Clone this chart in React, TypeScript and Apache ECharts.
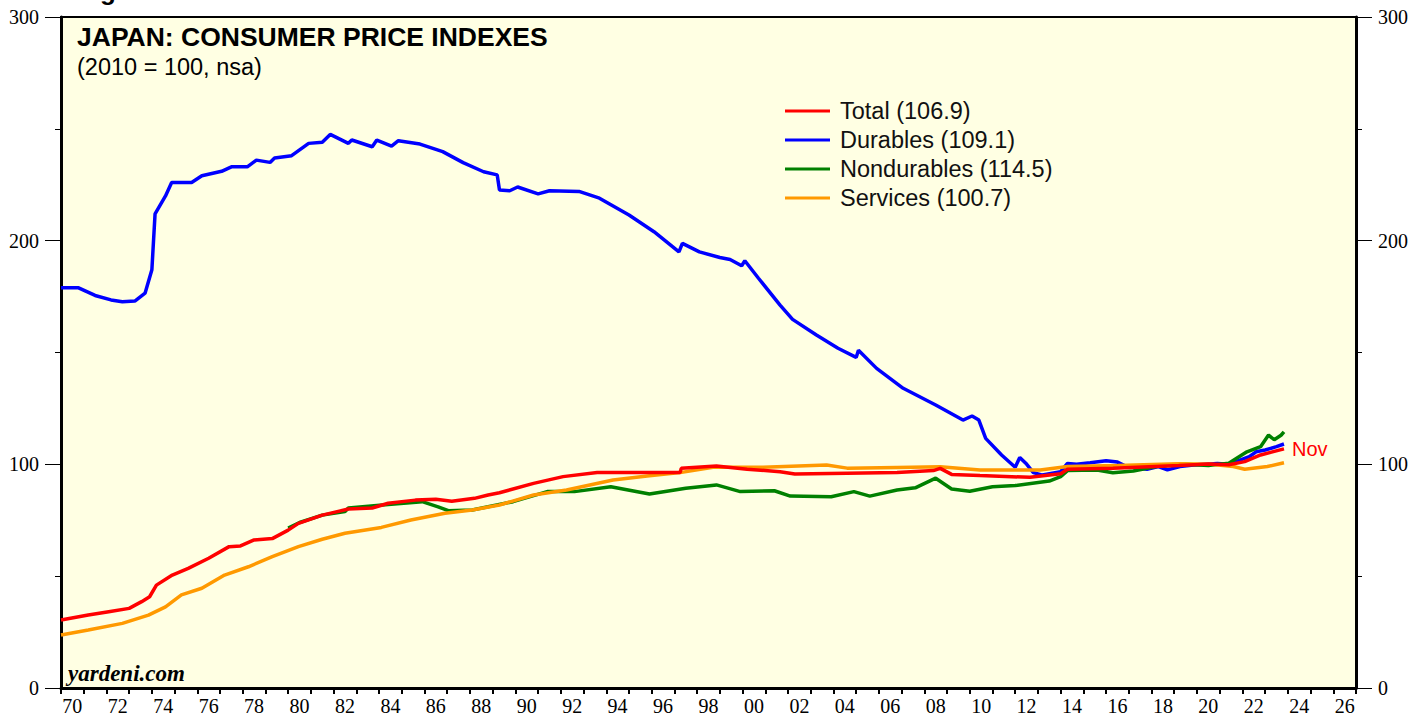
import React, { useEffect, useRef } from "react";
import * as echarts from "echarts";

// ---- Data (year as decimal, index value; 2010 = 100) ----
const durables: [number, number][] = [
  [1970.0, 179], [1970.75, 179], [1971.5, 175.5], [1972.2, 173.5], [1972.7, 172.7],
  [1973.25, 173], [1973.7, 176.5], [1974.0, 187], [1974.14, 212], [1974.6, 220],
  [1974.87, 226], [1975.75, 226], [1976.2, 229], [1977.07, 231], [1977.5, 233],
  [1978.2, 233], [1978.6, 236], [1979.2, 235], [1979.4, 237], [1980.15, 238],
  [1980.9, 243.5], [1981.5, 244], [1981.85, 247.5], [1982.65, 243.5], [1982.8, 245],
  [1983.7, 242], [1983.9, 245], [1984.55, 242.3], [1984.85, 244.7], [1985.8, 243.2],
  [1986.8, 239.8], [1987.7, 234.9], [1988.6, 230.8], [1989.2, 229.4], [1989.3, 222.7],
  [1989.75, 222.3], [1990.1, 224], [1991.0, 220.9], [1991.5, 222.3], [1992.8, 222],
  [1993.7, 219], [1995.0, 211.5], [1996.1, 204], [1997.2, 195], [1997.35, 198.8],
  [1998.1, 195], [1999.0, 192.5], [1999.45, 191.6], [1999.96, 188.8], [2000.1, 191],
  [2000.7, 183.2], [2001.65, 171.2], [2002.2, 164.8], [2003.25, 157.8], [2004.2, 151.9],
  [2005.0, 147.8], [2005.1, 151], [2005.9, 142.9], [2007.07, 134], [2008.5, 126.5],
  [2009.7, 119.8], [2010.1, 121.6], [2010.4, 119.8], [2010.7, 111.6], [2011.4, 104.2],
  [2012.0, 98.7], [2012.2, 103.1], [2012.5, 100.1], [2012.8, 96.3], [2013.2, 95.2],
  [2014.0, 96.7], [2014.3, 100.4], [2014.7, 100], [2015.3, 100.7], [2016.0, 101.6],
  [2016.5, 101], [2016.9, 99], [2017.8, 97.8], [2018.3, 99], [2018.7, 97.5],
  [2019.25, 99], [2019.85, 99.7], [2020.9, 100.4], [2021.4, 100], [2022.3, 103.4],
  [2022.6, 105.6], [2023.0, 106.4], [2023.5, 107.9], [2023.83, 109.1],
];

const total: [number, number][] = [
  [1970.0, 30.4], [1971.2, 32.6], [1972.1, 34.1], [1973.0, 35.6], [1973.55, 38.6],
  [1973.9, 40.8], [1974.2, 46], [1974.9, 50.5], [1975.6, 53.5], [1976.5, 58],
  [1977.4, 63.2], [1977.9, 63.5], [1978.5, 66.2], [1979.3, 66.8], [1980.0, 70.6],
  [1980.45, 73.6], [1981.5, 77.3], [1982.65, 80], [1983.7, 80.5], [1984.4, 82.6],
  [1985.6, 84], [1986.5, 84.4], [1987.2, 83.5], [1988.2, 84.8], [1988.8, 86.3],
  [1989.3, 87.3], [1990.8, 91.5], [1992.1, 94.5], [1993.6, 96.3], [1995.0, 96.3],
  [1997.25, 96.3], [1997.3, 98.2], [1998.85, 99.3], [2000.2, 97.8], [2001.65, 96.7],
  [2002.3, 95.7], [2004.6, 96], [2006.8, 96.3], [2008.4, 97.2], [2008.7, 98.2],
  [2009.2, 95.5], [2010.45, 95], [2012.65, 94.2], [2014.0, 95.8], [2014.3, 97.8],
  [2016.3, 98.2], [2019.2, 99.5], [2020.5, 100.2], [2021.4, 99.8], [2022.1, 101.2],
  [2022.8, 104.2], [2023.83, 106.9],
];

const services: [number, number][] = [
  [1970.0, 23.7], [1971.2, 25.9], [1972.7, 28.9], [1973.85, 32.6], [1974.6, 36.3],
  [1975.3, 41.6], [1976.2, 44.6], [1977.2, 50.5], [1978.25, 54.2], [1979.3, 58.7],
  [1980.45, 63.2], [1981.5, 66.5], [1982.5, 69.2], [1984.1, 71.8], [1985.4, 75.1],
  [1986.9, 78.1], [1988.1, 79.6], [1989.3, 81.8], [1990.8, 86.3], [1992.25, 88.5],
  [1994.3, 93], [1995.8, 94.8], [1997.25, 96.3], [1998.7, 98.7], [2000.9, 98.7],
  [2003.7, 99.7], [2004.6, 98.3], [2006.8, 98.6], [2008.7, 98.9], [2010.45, 97.5],
  [2013.1, 97.5], [2014.3, 99], [2016.5, 99.5], [2019.2, 100.3], [2020.6, 100],
  [2021.6, 99], [2022.1, 97.8], [2023.1, 99], [2023.83, 100.7],
];

const nondurables: [number, number][] = [
  [1980.0, 71.5], [1980.5, 74], [1981.5, 77.3], [1982.5, 78.9], [1982.65, 80.5],
  [1984.4, 82], [1985.9, 83.3], [1986.6, 81], [1987.05, 79.3], [1988.1, 79.6],
  [1988.8, 81], [1989.9, 83.3], [1991.4, 87.8], [1992.6, 87.8], [1994.2, 90],
  [1995.9, 86.7], [1997.5, 89.3], [1998.85, 90.8], [1999.9, 87.8], [2001.4, 88.2],
  [2002.1, 85.8], [2003.9, 85.5], [2004.9, 87.8], [2005.6, 85.8], [2006.8, 88.5],
  [2007.6, 89.5], [2008.5, 93.8], [2009.2, 89], [2010.0, 88], [2011.0, 90],
  [2012.0, 90.5], [2013.5, 92.5], [2014.0, 94.5], [2014.3, 97.2], [2015.6, 97.5],
  [2016.3, 96.2], [2017.2, 97], [2018.2, 99], [2019.5, 100], [2020.5, 99.5],
  [2021.4, 100.5], [2022.2, 105.6], [2022.8, 107.9], [2023.15, 113.1], [2023.4, 111],
  [2023.7, 113], [2023.83, 114.5],
];

const yearLabels: string[] = [];
for (let y = 1970; y <= 2026; y++) yearLabels.push(String(y % 100).padStart(2, "0"));

const names = {
  total: "Total (106.9)",
  durables: "Durables (109.1)",
  nondurables: "Nondurables (114.5)",
  services: "Services (100.7)",
};

const SANS = "Liberation Sans, Arial, sans-serif";
const SERIF = "Liberation Serif, Times New Roman, serif";

export default function App() {
  const ref = useRef<HTMLDivElement>(null);
  useEffect(() => {
    if (!ref.current) return;
    const chart = echarts.init(ref.current, undefined, { renderer: "svg" });
    const line = (name: string, data: [number, number][], color: string, extra: any = {}) => ({
      type: "line",
      name,
      data,
      xAxisIndex: 0,
      yAxisIndex: 0,
      showSymbol: false,
      symbol: "none",
      lineStyle: { color, width: 3.5 },
      itemStyle: { color },
      ...extra,
    });
    const yAxisCommon = (position: "left" | "right") => ({
      type: "value",
      position,
      min: 0,
      max: 300,
      interval: 100,
      axisLine: { show: true, lineStyle: { color: "#000", width: 3 } },
      axisTick: { show: true, length: 16, lineStyle: { color: "#000", width: 1 } },
      minorTick: { show: true, splitNumber: 2, length: 6, lineStyle: { color: "#000", width: 1 } },
      axisLabel: { margin: 22, fontFamily: SERIF, fontSize: 20, color: "#000" },
      splitLine: { show: false },
    });
    chart.setOption({
      animation: false,
      backgroundColor: "#ffffff",
      grid: {
        left: 61,
        right: 71,
        top: 17,
        bottom: 31,
        show: true,
        backgroundColor: "#FFFFE3",
        borderColor: "#000",
        borderWidth: 2,
      },
      xAxis: [
        { type: "value", min: 1970, max: 2027, show: false },
        {
          type: "category",
          data: yearLabels,
          boundaryGap: true,
          position: "bottom",
          axisLine: { show: true, lineStyle: { color: "#000", width: 3 } },
          axisTick: { show: true, interval: 0, length: 6, lineStyle: { color: "#000", width: 2 } },
          axisLabel: { interval: 1, margin: 8, fontFamily: SERIF, fontSize: 20, color: "#000" },
          splitLine: { show: false },
        },
      ],
      yAxis: [yAxisCommon("left"), yAxisCommon("right")],
      legend: {
        data: [names.total, names.durables, names.nondurables, names.services],
        orient: "vertical",
        left: 780,
        top: 94,
        icon: "rect",
        itemWidth: 45,
        itemHeight: 3,
        itemGap: 5,
        textStyle: {
          fontFamily: SANS,
          fontSize: 23.5,
          color: "#111",
          lineHeight: 24,
          padding: [0, 0, 0, 5],
        },
      },
      graphic: [
        {
          type: "text",
          x: 77,
          y: 37,
          style: {
            text: "JAPAN: CONSUMER PRICE INDEXES",
            font: `bold 26.5px ${SANS}`,
            fill: "#000",
            verticalAlign: "middle",
          },
        },
        {
          type: "text",
          x: 77,
          y: 67,
          style: {
            text: "(2010 = 100, nsa)",
            font: `23.5px ${SANS}`,
            fill: "#000",
            verticalAlign: "middle",
          },
        },
        {
          type: "text",
          x: 68,
          y: 673,
          style: {
            text: "yardeni.com",
            font: `italic bold 23px ${SERIF}`,
            fill: "#000",
            verticalAlign: "middle",
          },
        },
        {
          type: "text",
          x: 77,
          y: 4,
          style: {
            text: "Figure 5.",
            font: `bold 26px ${SANS}`,
            fill: "#000",
            verticalAlign: "bottom",
          },
        },
      ],
      series: [
        line(names.durables, durables, "#0000FF"),
        line(names.nondurables, nondurables, "#008000"),
        line(names.services, services, "#FF9900"),
        line(names.total, total, "#FF0000", {
          endLabel: {
            show: true,
            formatter: "Nov",
            color: "#FF0000",
            fontFamily: SANS,
            fontSize: 20,
            distance: 8,
          },
        }),
      ],
    });
    return () => chart.dispose();
  }, []);
  return (
    <div
      ref={ref}
      style={{ position: "absolute", left: 0, top: 0, width: 1427, height: 719 }}
    />
  );
}
